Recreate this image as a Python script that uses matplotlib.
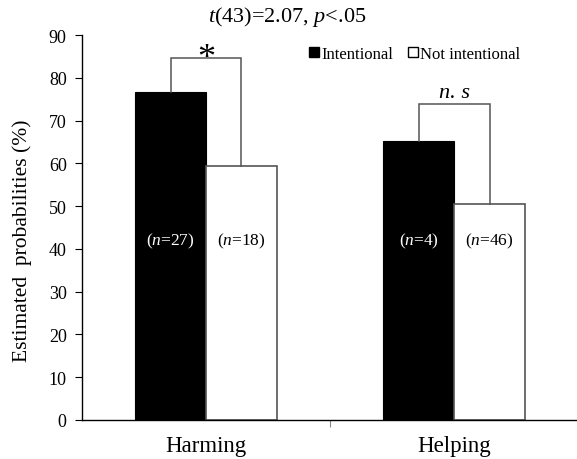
import matplotlib
matplotlib.use("Agg")
import matplotlib.pyplot as plt
import numpy as np
from matplotlib.lines import Line2D

plt.rcParams['font.family'] = ['Liberation Serif', 'DejaVu Serif']
plt.rcParams['mathtext.fontset'] = 'custom'
plt.rcParams['mathtext.rm'] = 'Liberation Serif'
plt.rcParams['mathtext.it'] = 'Liberation Serif:italic'

categories = ['Harming', 'Helping']
intentional = [76.7, 65.3]
not_intentional = [59.4, 50.6]
n_intentional = [27, 4]
n_not_intentional = [18, 46]
bracket_tops = [84.6, 73.8]
sig_marks = ['*', 'n. s']

fig = plt.figure(figsize=(5.77, 4.6), dpi=100)
ax = fig.add_axes([0.142, 0.0848, 0.860, 0.8369])

x = np.arange(len(categories))
w = 0.286
ax.bar(x - w/2, intentional, w, color='black', edgecolor='black', linewidth=0.8)
ax.bar(x + w/2, not_intentional, w, color='white', edgecolor='#555555', linewidth=1.2)

for i in range(len(categories)):
	xl = x[i] - w/2
	xr = x[i] + w/2
	top = bracket_tops[i]
	ax.plot([xl, xl, xr, xr], [intentional[i], top, top, not_intentional[i]],
		color='#555555', lw=1.1, solid_joinstyle='miter')
	ax.text(xl, 42, '($n$=%d)' % n_intentional[i], color='white', ha='center', va='center', fontsize=12.5)
	ax.text(xr, 42, '($n$=%d)' % n_not_intentional[i], color='black', ha='center', va='center', fontsize=12.5)

ax.text(x[0], bracket_tops[0] - 4.0, sig_marks[0], ha='center', va='bottom', fontsize=26)
ax.text(x[1], bracket_tops[1] + 0.6, sig_marks[1], ha='center', va='bottom', fontsize=16, style='italic')

ax.set_xlim(-0.5, 1.5)
ax.set_ylim(0, 90)
ax.set_yticks(np.arange(0, 91, 10))
ax.set_xticks([0.5])
ax.set_xticklabels([''])
ax.tick_params(axis='x', direction='out', length=5, color='#888888')
ax.tick_params(axis='y', direction='out', length=5, labelsize=13, pad=6)
for i in range(len(categories)):
	ax.text(x[i], -3.6, categories[i], ha='center', va='top', fontsize=16.5)
ax.spines['top'].set_visible(False)
ax.spines['right'].set_visible(False)
ax.spines['left'].set_linewidth(1.0)
ax.spines['bottom'].set_linewidth(1.0)
ax.set_ylabel('Estimated  probabilities (%)', fontsize=15.5)
ax.yaxis.set_label_coords(-0.10, 0.468)

fig.text(0.497, 0.963, r'$\mathit{t}$(43)=2.07, $\mathit{p}$<.05', ha='center', va='center', fontsize=16)

handles = [Line2D([], [], marker='s', color='none', markerfacecolor='black', markeredgecolor='black', markersize=7),
	Line2D([], [], marker='s', color='none', markerfacecolor='white', markeredgecolor='black', markersize=7)]
fig.legend(handles, ['Intentional', 'Not intentional'], loc='center', bbox_to_anchor=(0.718, 0.880),
	ncol=2, frameon=False, handlelength=0.7, handletextpad=0.1, columnspacing=0.8, fontsize=12)

fig.savefig('out.png', dpi=100)
